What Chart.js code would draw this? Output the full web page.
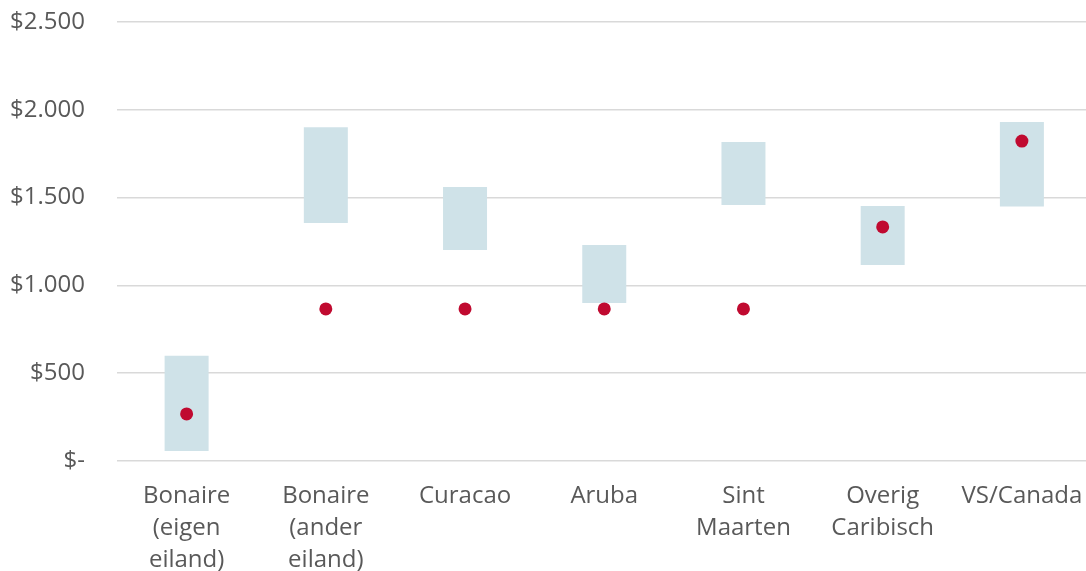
<!DOCTYPE html>
<html>
<head>
<meta charset="utf-8">
<script src="https://cdn.jsdelivr.net/npm/chart.js@4"></script>
<style>
  html, body { margin: 0; padding: 0; background: #fff; overflow: hidden; }
</style>
</head>
<body>
<canvas id="myChart" width="1098" height="600"></canvas>
<script>
// categories
const categories = [
  ['Bonaire', '(eigen', 'eiland)'],
  ['Bonaire', '(ander', 'eiland)'],
  ['Curacao'],
  ['Aruba'],
  ['Sint', 'Maarten'],
  ['Overig', 'Caribisch'],
  ['VS/Canada'],
];
// range bars: low and high
const rangeLow = [57, 1355, 1202, 900, 1458, 1116, 1450];
const rangeHigh = [600, 1900, 1560, 1230, 1817, 1452, 1930];
// dots
const dotValues = [268, 866, 866, 866, 866, 1333, 1822];
// y ticks
const yTicks = [0, 500, 1000, 1500, 2000, 2500];
const yTickLabels = ['$-', '$500', '$1.000', '$1.500', '$2.000', '$2.500'];

const ranges = rangeLow.map((lo, i) => [lo, rangeHigh[i]]);
const font = { family: "'Open Sans', sans-serif", size: 24 };
const textColor = '#595959';

const chart = new Chart(document.getElementById('myChart'), {
  type: 'bar',
  data: {
    labels: categories,
    datasets: [
      {
        label: 'Bereik',
        data: ranges,
        backgroundColor: '#cfe2e8',
        borderWidth: 0,
        barPercentage: 0.316,
        categoryPercentage: 1,
        order: 2,
      },
      {
        type: 'line',
        label: 'Prijs',
        data: dotValues,
        showLine: false,
        pointRadius: 6.5,
        pointHoverRadius: 6.5,
        pointBackgroundColor: '#c00a30',
        pointBorderWidth: 0,
        order: 1,
      },
    ],
  },
  options: {
    responsive: false,
    animation: false,
    layout: { padding: { top: 22, left: 0, right: 0, bottom: 0 } },
    plugins: {
      legend: { display: false },
      tooltip: { enabled: false },
    },
    scales: {
      x: {
        offset: true,
        grid: { display: false, drawTicks: false },
        border: { display: false },
        ticks: {
          color: textColor,
          font: { ...font, lineHeight: 1.333 },
          padding: 19,
          maxRotation: 0,
          autoSkip: false,
        },
        afterFit: (scale) => {
          scale.height = 139;
          scale.paddingLeft = 0;
          scale.paddingRight = 0;
        },
      },
      y: {
        min: 0,
        max: 2500,
        afterBuildTicks: (scale) => {
          scale.ticks = yTicks.map((v) => ({ value: v }));
        },
        grid: { color: '#d9d9d9', lineWidth: 1.5, drawTicks: false },
        border: { display: false },
        ticks: {
          color: textColor,
          font: font,
          padding: 32,
          callback: (value) => yTickLabels[yTicks.indexOf(value)],
        },
        afterFit: (scale) => {
          scale.width = 117;
          scale.paddingTop = 0;
          scale.paddingBottom = 0;
        },
      },
    },
  },
});
</script>
</body>
</html>
